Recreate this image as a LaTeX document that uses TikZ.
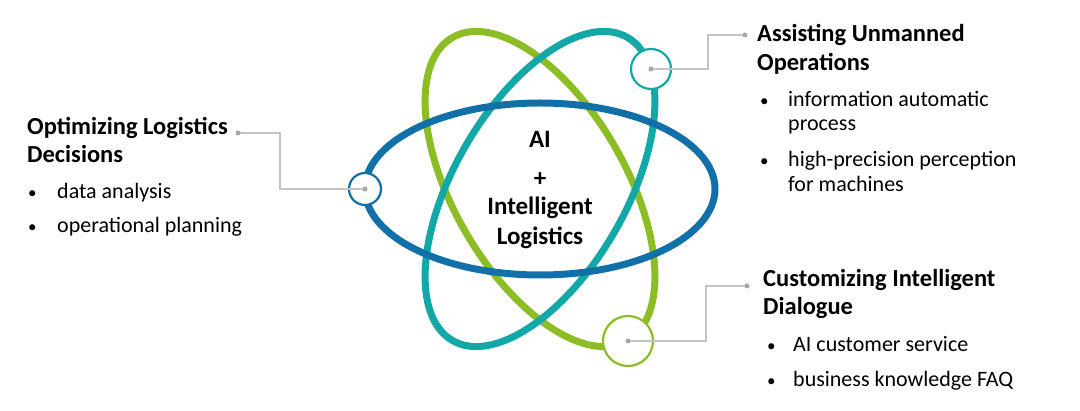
\documentclass[tikz,border=0pt]{standalone}
\usepackage{fontspec}
\setmainfont{Carlito}
\definecolor{orbblue}{HTML}{1170A8}
\definecolor{orbteal}{HTML}{12A8A8}
\definecolor{orbgreen}{HTML}{8DBD25}
\definecolor{leadgray}{HTML}{C4C4C4}
\tikzset{
  orbit/.style={line width=7pt},
  knot/.style={fill=white, line width=2.2pt},
  leader/.style={draw=leadgray, line width=1.3pt},
  tip/.style={circle, fill=leadgray!85!black, inner sep=0pt, minimum size=5pt},
  head/.style={anchor=base west, font=\bfseries\fontsize{24.5}{29}\selectfont, inner sep=0pt},
  item/.style={anchor=base west, font=\fontsize{22}{25}\selectfont, inner sep=0pt},
  dotmark/.style={anchor=base west, font=\fontsize{17}{25}\selectfont, inner sep=0pt},
  core/.style={anchor=base, font=\bfseries\fontsize{25}{30}\selectfont, inner sep=0pt}
}
\begin{document}
\begin{tikzpicture}[x=1pt, y=1pt]
    \useasboundingbox (0,0) rectangle (1080,-411);
    \coordinate (ctr) at (540,-189);

    % orbits
    \draw[orbit, orbgreen] (ctr) ellipse [x radius=175pt, y radius=86pt, rotate=-60];
    \draw[orbit, orbteal] (ctr) ellipse [x radius=175pt, y radius=86pt, rotate=60];
    \draw[orbit, orbblue] (ctr) ellipse [x radius=175pt, y radius=86pt];

    % small circles on the orbits
    \coordinate (bdot) at (365,-189);
    \coordinate (tdot) at (651,-69);
    \coordinate (gdot) at (628,-341);
    \draw[knot, draw=orbblue] (bdot) circle [radius=16pt];
    \draw[knot, draw=orbteal] (tdot) circle [radius=20pt];
    \draw[knot, draw=orbgreen] (gdot) circle [radius=25pt];

    % center text
    \node[core] (ai) at (540,-148) {AI};
    \node[core] (plus) at (540,-187) {+};
    \node[core] (il1) at (540,-215) {Intelligent};
    \node[core] (il2) at (540,-245) {Logistics};

    % leaders
    \coordinate (lend) at (238,-133);
    \coordinate (tend) at (745,-35);
    \coordinate (gend) at (747,-286);
    \draw[leader] (bdot) -- (280,-189) |- (lend);
    \draw[leader] (tdot) -- (708,-69) |- (tend);
    \draw[leader] (gdot) -- (706,-341) |- (gend);
    \foreach \p in {bdot, tdot, gdot, lend, tend, gend}
        \node[tip] at (\p) {};

    % left block
    \node[head] (lhead1) at (27,-135) {Optimizing Logistics};
    \node[head] (lhead2) at (27,-163) {Decisions};
    \node[dotmark] (lb1) at (28,-199) {•};
    \node[item] (lt1) at (57,-199) {data analysis};
    \node[dotmark] (lb2) at (28,-233) {•};
    \node[item] (lt2) at (57,-233) {operational planning};

    % top right block
    \node[head] (thead1) at (757,-42) {Assisting Unmanned};
    \node[head] (thead2) at (757,-71) {Operations};
    \node[dotmark] (tb1) at (760,-107) {•};
    \node[item] (tt1) at (788,-107) {information automatic};
    \node[item] (tt1b) at (788,-131) {process};
    \node[dotmark] (tb2) at (760,-167) {•};
    \node[item] (tt2) at (788,-167) {high-precision perception};
    \node[item] (tt2b) at (788,-192) {for machines};

    % bottom right block
    \node[head] (ghead1) at (763,-287) {Customizing Intelligent};
    \node[head] (ghead2) at (763,-315) {Dialogue};
    \node[dotmark] (gb1) at (767,-352) {•};
    \node[item] (gt1) at (793,-352) {AI customer service};
    \node[dotmark] (gb2) at (767,-387) {•};
    \node[item] (gt2) at (793,-387) {business knowledge FAQ};
\end{tikzpicture}
\end{document}
